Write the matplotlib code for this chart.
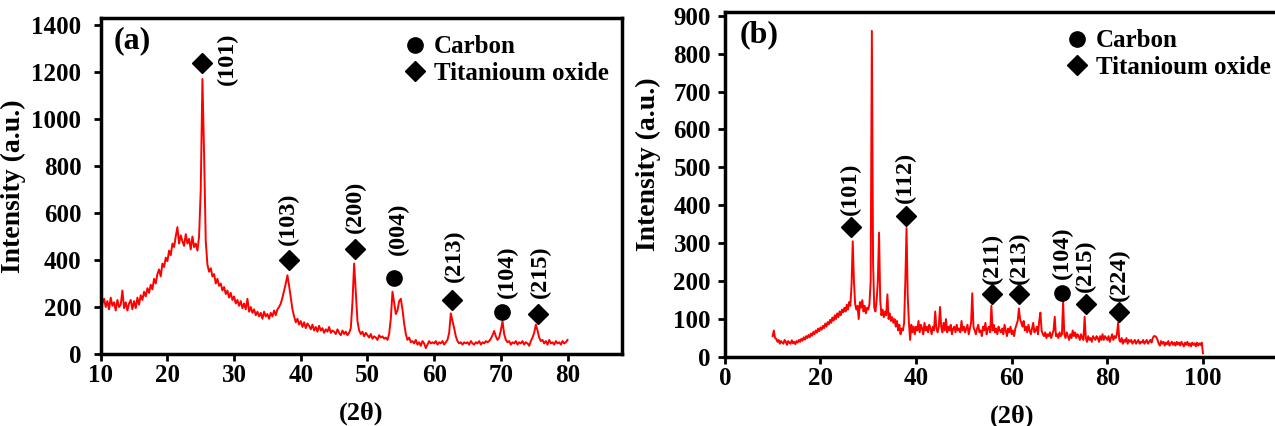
import numpy as np
import matplotlib
matplotlib.use("Agg")
import matplotlib.pyplot as plt
from matplotlib.lines import Line2D

plt.rcParams['font.family'] = ['Liberation Serif', 'DejaVu Serif']
plt.rcParams['font.weight'] = 'bold'

# ---- panel (a): 2-theta from 10 to 80, step 0.25 ----
a_start, a_step = 10.0, 0.25
a_int = [
    120, 215, 235, 200, 225, 190, 240, 205, 220, 185, 230, 200, 210, 270, 195, 220, 185, 215, 230, 190,
    225, 195, 240, 210, 250, 230, 265, 245, 280, 260, 295, 275, 320, 300, 340, 360, 330, 385, 370, 410,
    395, 440, 420, 470, 455, 500, 540, 470, 505, 480, 460, 510, 470, 490, 445, 500, 455, 470, 440, 500,
    700, 1170, 850, 480, 380, 350, 365, 330, 340, 300, 320, 290, 300, 270, 285, 255, 270, 240, 260, 230,
    245, 215, 230, 205, 225, 195, 215, 190, 235, 180, 200, 175, 190, 165, 180, 160, 175, 150, 180, 160,
    170, 150, 175, 160, 185, 165, 190, 200, 215, 240, 270, 300, 335, 290, 240, 190, 160, 135, 150, 125,
    140, 115, 135, 110, 130, 120, 105, 125, 100, 115, 95, 120, 100, 110, 90, 105, 95, 115, 90, 100,
    95, 85, 105, 90, 80, 100, 85, 95, 80, 90, 110, 220, 385, 260, 140, 100, 85, 95, 75, 90,
    80, 70, 85, 65, 75, 70, 60, 80, 70, 75, 65, 70, 60, 85, 150, 265, 220, 170, 185, 225,
    235, 190, 130, 85, 60, 70, 50, 55, 45, 60, 40, 50, 35, 55, 45, 25, 40, 55, 45, 50,
    45, 55, 40, 50, 45, 55, 40, 50, 60, 90, 173, 140, 110, 75, 55, 45, 50, 40, 50, 45,
    50, 40, 55, 45, 40, 50, 45, 55, 40, 50, 45, 55, 50, 55, 65, 80, 98, 75, 60, 70,
    100, 140, 85, 60, 50, 55, 40, 50, 45, 55, 40, 50, 45, 55, 40, 50, 45, 35, 55, 70,
    90, 125, 100, 70, 55, 60, 45, 55, 40, 60, 45, 50, 40, 55, 45, 50, 40, 55, 45, 50, 60,
]

# ---- panel (b): 2-theta from 10 to 100, step 0.25 ----
b_start, b_step = 10.0, 0.25
b_int = [
    55, 70, 50, 48, 40, 45, 35, 42, 38, 35, 45, 40, 32, 42, 38, 35, 44, 36, 40, 34,
    42, 38, 45, 40, 48, 43, 52, 46, 55, 50, 58, 52, 62, 56, 66, 60, 70, 64, 75, 68,
    78, 72, 82, 76, 88, 80, 92, 86, 98, 90, 104, 96, 110, 100, 115, 105, 120, 110, 125, 118,
    130, 120, 138, 125, 145, 135, 190, 305, 200, 140, 125, 135, 100, 145, 130, 150, 120, 135, 115, 130,
    125, 140, 200, 860, 250, 130, 120, 150, 200, 328, 150, 110, 125, 105, 120, 110, 165, 100, 115, 95,
    105, 90, 100, 80, 95, 70, 85, 60, 75, 70, 90, 200, 340, 160, 90, 45, 85, 65, 80, 60,
    80, 70, 95, 65, 85, 75, 60, 90, 70, 80, 65, 85, 75, 60, 80, 70, 120, 75, 65, 80,
    132, 80, 65, 90, 70, 100, 65, 80, 70, 85, 60, 75, 80, 65, 85, 70, 75, 65, 95, 70,
    80, 65, 75, 85, 60, 75, 90, 168, 80, 70, 60, 75, 85, 65, 70, 55, 80, 70, 90, 60,
    75, 80, 65, 135, 70, 85, 65, 75, 60, 80, 70, 65, 75, 60, 85, 70, 55, 75, 65, 80,
    60, 70, 55, 75, 85, 95, 128, 100, 90, 80, 95, 70, 80, 65, 85, 70, 60, 75, 90, 65,
    70, 80, 60, 95, 117, 70, 60, 55, 65, 50, 60, 55, 65, 50, 60, 70, 106, 55, 60, 50,
    65, 55, 60, 146, 60, 50, 65, 55, 45, 60, 50, 70, 55, 65, 50, 60, 55, 45, 60, 50,
    45, 106, 50, 40, 55, 45, 50, 40, 55, 50, 45, 55, 50, 40, 55, 45, 60, 45, 55, 50,
    45, 55, 40, 50, 60, 45, 55, 50, 60, 90, 45, 40, 50, 35, 45, 40, 50, 35, 45, 40,
    45, 35, 40, 45, 35, 40, 45, 35, 40, 38, 45, 35, 40, 45, 35, 40, 45, 38, 50, 55,
    55, 52, 45, 35, 30, 42, 35, 40, 30, 38, 34, 42, 30, 36, 40, 32, 38, 30, 40, 33,
    38, 30, 40, 34, 28, 38, 32, 40, 30, 36, 28, 38, 32, 36, 28, 38, 30, 36, 32, 38, 10,
]

# peak markers: (label, 2theta, marker height, kind, label x, label bottom)
a_marks = [
    ("(101)", 25.2, 1240, "D", 29.0, 1145),
    ("(103)", 38.2, 400, "D", 38.2, 465),
    ("(200)", 48.2, 448, "D", 48.2, 515),
    ("(004)", 54.0, 322, "o", 54.6, 420),
    ("(213)", 62.7, 230, "D", 63.1, 305),
    ("(104)", 70.2, 180, "o", 71.0, 240),
    ("(215)", 75.5, 172, "D", 75.9, 240),
]
b_marks = [
    ("(101)", 26.3, 342, "D", 26.3, 375),
    ("(112)", 37.8, 371, "D", 37.8, 405),
    ("(211)", 55.9, 166, "D", 56.0, 193),
    ("(213)", 61.6, 166, "D", 61.6, 193),
    ("(104)", 70.6, 168, "o", 70.6, 205),
    ("(215)", 75.5, 139, "D", 75.5, 172),
    ("(224)", 82.5, 118, "D", 82.5, 148),
]

fig = plt.figure(figsize=(12.75, 4.26), dpi=100)
ax_a = fig.add_axes([0.079, 0.169, 0.409, 0.789])
ax_b = fig.add_axes([0.5685, 0.162, 0.45, 0.81])


def style(ax, ypad, ylpad):
    for s in ax.spines.values():
        s.set_linewidth(2.5)
    ax.tick_params(direction='out', length=5, width=2, labelsize=18)
    ax.tick_params(axis='y', pad=ypad)
    ax.tick_params(axis='x', pad=2)
    for lab in ax.get_xticklabels() + ax.get_yticklabels():
        lab.set_fontweight('bold')
    ax.set_ylabel("Intensity (a.u.)", fontsize=20, fontweight='bold', labelpad=ylpad)
    ax.set_xlabel("(2θ)", fontsize=19, fontweight='bold', labelpad=11)


def draw(ax, start, step, vals, marks, panel, leg_anchor):
    x = start + step * np.arange(len(vals))
    ax.plot(x, vals, color='#ff0000', lw=1.4)
    for lab, tx, ty, kind, lx, ly in marks:
        ax.plot(tx, ty, marker=kind, color='black', ms=10 if kind == 'D' else 11, ls='none')
        ax.text(lx, ly, lab, rotation=90, ha='center', va='bottom', fontsize=17.5, fontweight='bold')
    ax.text(0.025, 0.975, panel, transform=ax.transAxes, ha='left', va='top',
            fontsize=23, fontweight='bold')
    handles = [Line2D([], [], marker='o', color='black', ls='none', ms=11),
               Line2D([], [], marker='D', color='black', ls='none', ms=10)]
    ax.legend(handles, ["Carbon", "Titanioum oxide"], loc='upper left', bbox_to_anchor=leg_anchor,
              frameon=False, handlelength=0.6, handletextpad=0.45, labelspacing=0.15,
              borderaxespad=0.3, prop={'size': 18, 'weight': 'bold'})


draw(ax_a, a_start, a_step, a_int, a_marks, "(a)", (0.555, 1.0))
ax_a.set_xlim(10, 88.2)
ax_a.set_ylim(0, 1430)
ax_a.set_xticks(range(10, 81, 10))
ax_a.set_yticks(range(0, 1401, 200))
style(ax_a, 9, 4)

draw(ax_b, b_start, b_step, b_int, b_marks, "(b)", (0.57, 1.0))
ax_b.set_xlim(0, 120)
ax_b.set_ylim(0, 910)
ax_b.set_xticks(range(0, 101, 20))
ax_b.set_yticks(range(0, 901, 100))
ax_b.spines['right'].set_visible(False)
style(ax_b, 5, 9)
ax_b.yaxis.label.set_y(0.56)

fig.savefig("out.png", dpi=100)
